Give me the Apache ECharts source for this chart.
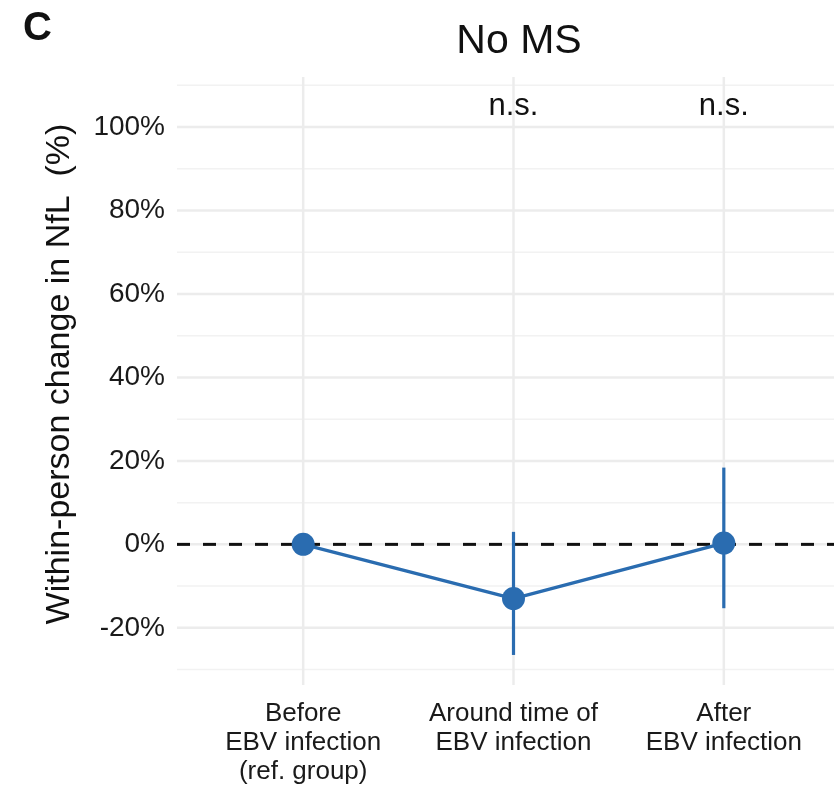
<!DOCTYPE html>
<html>
<head>
<meta charset="utf-8">
<script src="https://cdn.jsdelivr.net/npm/echarts@6/dist/echarts.min.js"></script>
<style>
  html, body { margin: 0; padding: 0; background: #fff; }
  #chart { width: 834px; height: 787px; }
</style>
</head>
<body>
<div id="chart"></div>
<script>
// categories on the x axis (positions 1..3)
const categories = ['Before\nEBV infection\n(ref. group)', 'Around time of\nEBV infection', 'After\nEBV infection'];
const xPos = [1, 2, 3];
// estimates and 95% CI (%)
const estimate = [0, -13, 0.3];
const lower = [null, -26.5, -15.3];
const upper = [null, 3, 18.4];
// significance labels
const sigLabels = ['', 'n.s.', 'n.s.'];
const sigY = 105;
// y axis ticks / gridlines
const yTicks = [-20, 0, 20, 40, 60, 80, 100];
const yMinor = [-30, -10, 10, 30, 50, 70, 90, 110];

const FONT = '"Liberation Sans", Arial, sans-serif';
const BLUE = '#2a6cb0';
const TXT = '#1a1a1a';

const chart = echarts.init(document.getElementById('chart'));

function hLine(color, width, dash) {
  return function (params, api) {
    const cs = params.coordSys;
    const y = api.coord([1, api.value(1)])[1];
    return {
      type: 'line',
      shape: { x1: cs.x, y1: y, x2: cs.x + cs.width, y2: y },
      style: { stroke: color, lineWidth: width, lineDash: dash || null }
    };
  };
}

chart.setOption({
  animation: false,
  textStyle: { fontFamily: FONT },
  title: [
    { text: 'C', left: 18, top: 4, textStyle: { fontFamily: FONT, fontSize: 40, fontWeight: 'bold', color: '#111' } },
    { text: 'No MS', left: 514, top: 16, textAlign: 'center', textStyle: { fontFamily: FONT, fontSize: 41, fontWeight: 'normal', color: '#111' } }
  ],
  grid: { left: 177, right: -16, top: 77, bottom: 102, outerBoundsMode: 'none' },
  xAxis: {
    type: 'value', min: 0.4, max: 3.6,
    axisLine: { show: false }, axisTick: { show: false }, splitLine: { show: false },
    axisLabel: {
      customValues: xPos,
      formatter: v => categories[Math.round(v) - 1] || '',
      fontFamily: FONT, fontSize: 26, lineHeight: 29, color: TXT, margin: 14
    }
  },
  yAxis: {
    type: 'value', min: -33.7, max: 112,
    axisLine: { show: false }, axisTick: { show: false }, splitLine: { show: false },
    axisLabel: {
      customValues: yTicks,
      formatter: v => v + '%',
      fontFamily: FONT, fontSize: 28, color: TXT, margin: 12
    },
    name: 'Within-person change in NfL  (%)',
    nameLocation: 'middle', nameGap: 100,
    nameTextStyle: { fontFamily: FONT, fontSize: 34, color: '#111', padding: [0, 0, 0, 14] }
  },
  series: [
    { // minor horizontal gridlines
      type: 'custom', silent: true, z: 0, clip: false,
      data: yMinor.map(v => [1, v]),
      renderItem: hLine('#f2f2f2', 1.5)
    },
    { // major horizontal gridlines
      type: 'custom', silent: true, z: 0, clip: false,
      data: yTicks.map(v => [1, v]),
      renderItem: hLine('#ececec', 2.5)
    },
    { // vertical gridlines
      type: 'custom', silent: true, z: 0, clip: false,
      data: xPos.map(x => [x, 0]),
      renderItem: function (params, api) {
        const cs = params.coordSys;
        const x = api.coord([api.value(0), 0])[0];
        return {
          type: 'line',
          shape: { x1: x, y1: cs.y, x2: x, y2: cs.y + cs.height },
          style: { stroke: '#ececec', lineWidth: 2.5 }
        };
      }
    },
    { // dashed reference line at 0
      type: 'custom', silent: true, z: 1, clip: false,
      data: [[1, 0]],
      renderItem: hLine('#111', 3, [13, 13])
    },
    { // error bars
      type: 'custom', silent: true, z: 2,
      data: xPos.map((x, i) => [x, lower[i], upper[i]]).filter(d => d[1] != null),
      renderItem: function (params, api) {
        const p1 = api.coord([api.value(0), api.value(1)]);
        const p2 = api.coord([api.value(0), api.value(2)]);
        return {
          type: 'line',
          shape: { x1: p1[0], y1: p1[1], x2: p2[0], y2: p2[1] },
          style: { stroke: BLUE, lineWidth: 3.2 }
        };
      }
    },
    { // estimates
      type: 'line', z: 3,
      data: xPos.map((x, i) => [x, estimate[i]]),
      symbol: 'circle', symbolSize: 23,
      lineStyle: { color: BLUE, width: 3.2 },
      itemStyle: { color: BLUE }
    },
    { // significance labels
      type: 'custom', z: 4, silent: true, clip: false,
      data: xPos.map((x, i) => [x, sigY, i]).filter(d => sigLabels[d[2]]),
      renderItem: function (params, api) {
        const p = api.coord([api.value(0), api.value(1)]);
        return {
          type: 'text',
          x: p[0], y: p[1],
          style: {
            text: sigLabels[api.value(2)],
            fontFamily: FONT, fontSize: 31, fill: '#111',
            align: 'center', verticalAlign: 'middle'
          }
        };
      }
    }
  ]
});
</script>
</body>
</html>
